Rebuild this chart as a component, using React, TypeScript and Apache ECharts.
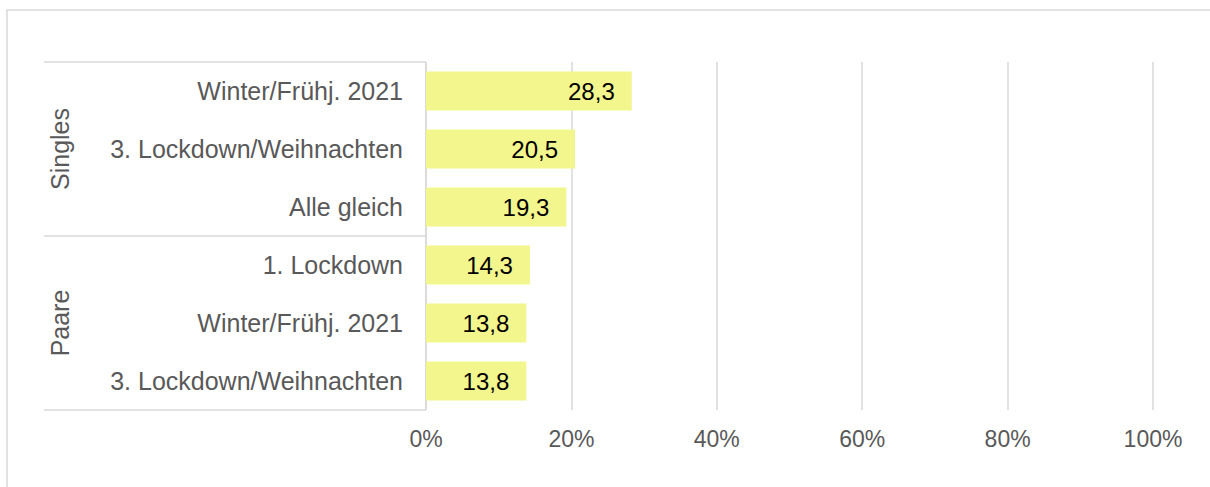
import React, { useEffect, useRef } from "react";
import * as echarts from "echarts";

const categories = [
  "Winter/Frühj. 2021",
  "3. Lockdown/Weihnachten",
  "Alle gleich",
  "1. Lockdown",
  "Winter/Frühj. 2021",
  "3. Lockdown/Weihnachten",
];
const values = [28.3, 20.5, 19.3, 14.3, 13.8, 13.8];
const groups = ["Singles", "Paare"];
const groupSizes = [3, 3];
const xTicks = [0, 20, 40, 60, 80, 100];

const FONT = "'Liberation Sans', Arial, sans-serif";
const GRID = { left: 426, right: 57, top: 62, bottom: 77 };
const W = 1210;
const H = 487;

export default function App() {
  const ref = useRef<HTMLDivElement>(null);
  useEffect(() => {
    if (!ref.current) return;
    const chart = echarts.init(ref.current, null, { renderer: "svg" });
    const plotTop = GRID.top;
    const plotBottom = H - GRID.bottom;
    const band = (plotBottom - plotTop) / categories.length;
    const boxLeft = 44;
    const lineStyle = { stroke: "#d9d9d9", lineWidth: 1.5 };
    const graphics: any[] = [
      {
        type: "rect",
        shape: { x: 7, y: 10, width: W, height: H },
        style: { fill: "none", stroke: "#d9d9d9", lineWidth: 1.5 },
        silent: true,
      },
    ];
    let idx = 0;
    const seps = [plotTop];
    groups.forEach((g, gi) => {
      const y0 = plotTop + idx * band;
      idx += groupSizes[gi];
      const y1 = plotTop + idx * band;
      seps.push(y1);
      graphics.push({
        type: "text",
        x: 60,
        y: (y0 + y1) / 2,
        rotation: Math.PI / 2,
        style: {
          text: g,
          fill: "#595959",
          font: `25px ${FONT}`,
          align: "center",
          verticalAlign: "middle",
        },
      });
    });
    seps.forEach((y) => {
      graphics.push({
        type: "line",
        shape: { x1: boxLeft, y1: y, x2: GRID.left, y2: y },
        style: lineStyle,
        silent: true,
      });
    });
    graphics.push({
      type: "line",
      shape: { x1: GRID.left, y1: plotTop, x2: GRID.left, y2: plotBottom },
      style: lineStyle,
      silent: true,
    });

    chart.setOption({
      animation: false,
      backgroundColor: "#ffffff",
      grid: { ...GRID },
      xAxis: {
        type: "value",
        min: xTicks[0],
        max: xTicks[xTicks.length - 1],
        interval: xTicks[1] - xTicks[0],
        axisLine: { show: false },
        axisTick: { show: false },
        splitLine: { lineStyle: { color: "#d9d9d9", width: 1.5 } },
        axisLabel: {
          formatter: "{value}%",
          color: "#595959",
          fontSize: 23,
          fontFamily: FONT,
          margin: 17,
        },
      },
      yAxis: {
        type: "category",
        inverse: true,
        data: categories,
        axisLine: { show: false },
        axisTick: { show: false },
        axisLabel: {
          color: "#595959",
          fontSize: 25,
          fontFamily: FONT,
          margin: 23,
        },
      },
      series: [
        {
          type: "bar",
          data: values,
          barCategoryGap: "33%",
          itemStyle: { color: "#F3F58D" },
          label: {
            show: true,
            position: "insideRight",
            distance: 17,
            color: "#000000",
            fontSize: 24,
            fontFamily: FONT,
            formatter: (p: any) => String(p.value.toFixed(1)).replace(".", ","),
          },
        },
      ],
      graphic: graphics,
    });
    return () => chart.dispose();
  }, []);
  return (
    <div
      ref={ref}
      style={{ position: "fixed", left: 0, top: 0, width: W, height: H }}
    />
  );
}
